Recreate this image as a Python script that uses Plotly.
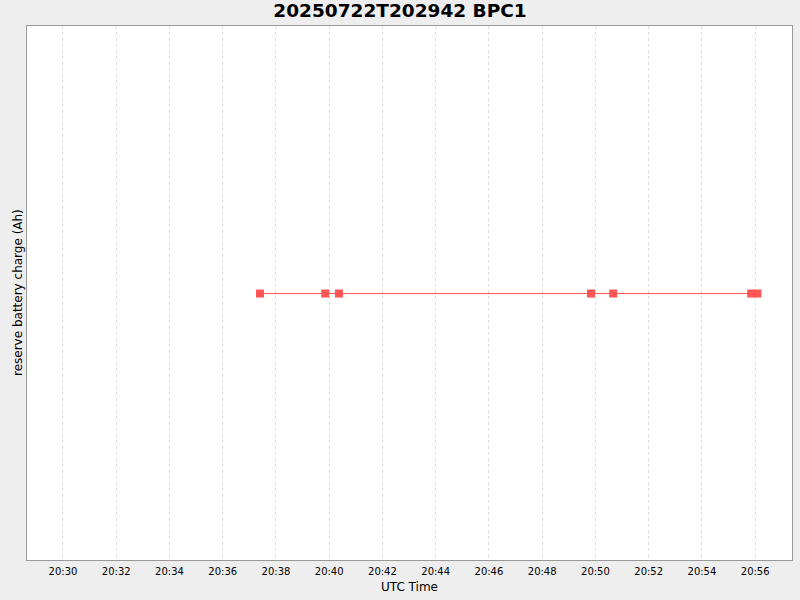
import pandas as pd
import plotly.graph_objects as go

# sample times (UTC) and reserve battery charge readings
times = [
    "2025-07-22 20:37:24",
    "2025-07-22 20:39:51",
    "2025-07-22 20:40:22",
    "2025-07-22 20:49:50",
    "2025-07-22 20:50:40",
    "2025-07-22 20:55:51",
    "2025-07-22 20:56:05",
]
charge = [0, 0, 0, 0, 0, 0, 0]

x_range = ["2025-07-22 20:28:39", "2025-07-22 20:57:23"]
tick_vals = pd.date_range("2025-07-22 20:30", "2025-07-22 20:56", freq="2min")

fig = go.Figure()
fig.add_trace(
    go.Scatter(
        x=pd.to_datetime(times),
        y=charge,
        mode="lines+markers",
        line=dict(color="#FF5555", width=1),
        marker=dict(symbol="square", size=8, color="#FF5555"),
        showlegend=False,
    )
)

fig.update_layout(
    width=800,
    height=600,
    paper_bgcolor="#EEEEEE",
    plot_bgcolor="white",
    font=dict(family="DejaVu Sans", color="black"),
    margin=dict(l=27, r=8, t=26, b=40, autoexpand=False),
    title=dict(
        text="<b>20250722T202942 BPC1</b>",
        x=0.5,
        xanchor="center",
        y=1 - 11 / 600,
        yanchor="middle",
        font=dict(size=18.5, family="DejaVu Sans"),
    ),
)

fig.update_xaxes(
    range=x_range,
    tickvals=tick_vals,
    tickformat="%H:%M",
    tickfont=dict(size=10),
    ticks="",
    ticklabelstandoff=2,
    showgrid=True,
    gridcolor="#DDDDDD",
    griddash="3px,3px",
    gridwidth=1,
    showline=True,
    linecolor="#999999",
    mirror=True,
    zeroline=False,
    automargin=False,
    title=dict(text="UTC Time", font=dict(size=12), standoff=6),
)
fig.update_yaxes(
    range=[-1, 1.004],
    showticklabels=False,
    showgrid=False,
    zeroline=False,
    showline=True,
    linecolor="#999999",
    mirror=True,
    automargin=False,
)

# y axis label placed closer to the plot edge than plotly's axis title allows
fig.add_annotation(
    text="reserve battery charge (Ah)",
    xref="paper",
    yref="paper",
    x=-9 / 765,
    y=0.5,
    xanchor="center",
    yanchor="middle",
    textangle=-90,
    showarrow=False,
    font=dict(size=12),
)

# drop the page's default body margin so the figure sits at the window corner
fig.write_html(
    "out.html",
    config={"displayModeBar": False},
    post_script="document.body.style.margin='0';document.body.style.overflow='hidden';",
)
